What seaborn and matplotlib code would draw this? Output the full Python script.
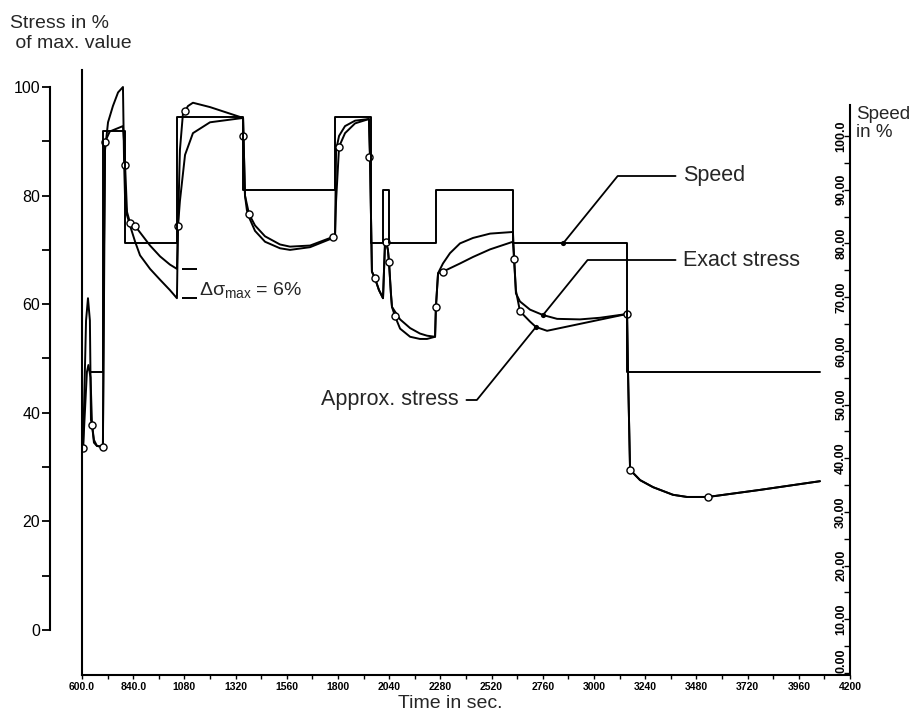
import numpy as np
import pandas as pd
import matplotlib
matplotlib.use("Agg")
import matplotlib.pyplot as plt
import seaborn as sns

sns.set_theme(style="white")
plt.rcParams['font.family'] = ['Liberation Sans', 'DejaVu Sans']
plt.rcParams['mathtext.fontset'] = 'custom'
plt.rcParams['mathtext.rm'] = 'Liberation Sans'
plt.rcParams['mathtext.it'] = 'Liberation Sans'

# ---------------- data ----------------
x_ticks = [600, 840, 1080, 1320, 1560, 1800, 2040, 2280, 2520, 2760, 3000,
           3240, 3480, 3720, 3960, 4200]
x_labels = ["600.0", "840.0", "1080", "1320", "1560", "1800", "2040", "2280",
            "2520", "2760", "3000", "3240", "3480", "3720", "3960", "4200"]
stress_ticks = [0, 20, 40, 60, 80, 100]
speed_ticks = [0, 10, 20, 30, 40, 50, 60, 70, 80, 90, 100]
speed_labels = ["0.00", "10.00", "20.00", "30.00", "40.00", "50.00", "60.00",
                "70.00", "80.00", "90.00", "100.0"]

speed_t = [637, 698, 802, 1045, 1355, 1786, 1955, 2011, 2040, 2259, 2620, 3155, 4060]
speed_v = [56.0, 101.0, 80.0, 103.5, 90.0, 103.5, 80.0, 90.0, 80.0, 90.0, 80.0, 56.0, 56.0]

exact_t = [605, 619, 628, 637, 642, 647, 656, 670, 698, 703, 708, 722, 745, 769,
           792, 797, 802, 811, 825, 849, 872, 919, 966, 1012, 1045, 1050, 1059,
           1073, 1097, 1120, 1200, 1355, 1364, 1373, 1383, 1411, 1458, 1528,
           1575, 1669, 1777, 1786, 1791, 1805, 1833, 1880, 1945, 1950, 1959,
           1973, 1992, 2011, 2020, 2025, 2034, 2039, 2048, 2053, 2067, 2091,
           2138, 2184, 2217, 2255, 2259, 2269, 2292, 2325, 2372, 2433, 2513,
           2620, 2634, 2653, 2700, 2761, 2827, 2934, 3028, 3155, 3159, 3169,
           3216, 3277, 3370, 3436, 3534, 3778, 4059]
exact_s = [33.5, 57.0, 61.1, 57.0, 38.7, 37.8, 35.0, 33.9, 33.7, 70.0, 88.4,
           93.5, 96.5, 99.0, 100.0, 86.6, 79.2, 76.4, 74.5, 71.5, 69.0, 66.5,
           64.5, 62.6, 61.1, 74.4, 88.4, 95.0, 96.5, 97.1, 96.3, 94.3, 80.0,
           77.3, 76.0, 73.5, 71.5, 70.3, 70.0, 70.5, 72.2, 72.4, 88.4, 91.0,
           92.8, 93.8, 94.1, 87.1, 66.0, 64.8, 62.6, 61.1, 70.9, 71.5, 70.0,
           67.8, 62.0, 59.5, 57.8, 55.5, 54.0, 53.6, 53.6, 54.0, 59.5, 65.7,
           67.5, 69.4, 71.2, 72.2, 73.0, 73.3, 62.0, 60.5, 59.0, 58.0, 57.3,
           57.2, 57.5, 58.2, 48.4, 29.5, 27.6, 26.3, 24.9, 24.5, 24.5, 25.8, 27.4]

approx_t = [605, 623, 630, 640, 647, 656, 670, 698, 703, 708, 730, 792, 797,
            802, 811, 825, 849, 919, 966, 1012, 1045, 1050, 1059, 1083, 1120,
            1200, 1355, 1364, 1383, 1411, 1458, 1528, 1575, 1669, 1777, 1786,
            1791, 1805, 1833, 1880, 1945, 1950, 1959, 1973, 1992, 2011, 2020,
            2025, 2034, 2039, 2048, 2053, 2091, 2138, 2184, 2217, 2255, 2259,
            2269, 2292, 2372, 2433, 2513, 2620, 2634, 2653, 2700, 2728, 2780,
            3155, 3159, 3169, 3216, 3277, 3370, 3436, 3534, 3778, 4059]
approx_s = [33.5, 47.5, 48.8, 46.5, 37.8, 34.5, 33.9, 33.7, 60.0, 89.9, 91.8,
            92.8, 90.0, 85.6, 77.0, 75.0, 74.4, 70.8, 68.8, 67.3, 66.5, 74.4,
            79.0, 87.5, 91.5, 93.5, 94.3, 80.0, 76.6, 74.5, 72.5, 71.0, 70.6,
            70.8, 72.4, 72.4, 79.0, 89.0, 91.5, 93.3, 94.1, 87.1, 66.0, 64.8,
            62.6, 61.1, 70.9, 71.5, 70.0, 67.8, 62.0, 59.5, 57.2, 55.6, 54.6,
            54.2, 54.0, 59.5, 65.7, 66.0, 67.5, 68.7, 70.1, 71.5, 62.5, 58.7,
            56.8, 55.8, 55.1, 58.2, 48.4, 29.5, 27.6, 26.3, 24.9, 24.5, 24.5,
            25.8, 27.4]

mark_t = [605, 647, 698, 708, 802, 825, 849, 1050, 1083, 1357, 1383, 1777,
          1805, 1946, 1973, 2025, 2039, 2067, 2259, 2292, 2626, 2653, 3155,
          3169, 3534]
mark_s = [33.5, 37.8, 33.7, 89.9, 85.6, 75.0, 74.4, 74.4, 95.5, 91.0, 76.6,
          72.4, 89.0, 87.1, 64.8, 71.5, 67.8, 57.8, 59.5, 66.0, 68.3, 58.7,
          58.2, 29.5, 24.5]

speed_label_point = (2855, 80.0)
exact_label_point = (2761, 58.0)
approx_label_point = (2728, 55.8)
delta_time = 1045

# ---------------- figure ----------------
W, H = 918, 717
fig = plt.figure(figsize=(W / 100, H / 100), dpi=100)
ax = fig.add_axes([82 / W, 1 - 675 / H, 768 / W, 605 / H])
ax.set_xlim(600, 4200)
ax.set_ylim(-8.29, 103.13)
tw = ax.twinx()
tw.set_ylim(-0.37, 112.3)
for a in (ax, tw):
    a.grid(False)
    a.set_facecolor('none')

lw = 1.4
sns.lineplot(x=exact_t, y=exact_s, ax=ax, color='black', lw=lw,
             estimator=None, sort=False)
sns.lineplot(x=approx_t, y=approx_s, ax=ax, color='black', lw=lw,
             estimator=None, sort=False)
sns.scatterplot(x=mark_t, y=mark_s, ax=ax, marker='o', s=26,
                facecolor='white', edgecolor='black', linewidth=1.0, zorder=5)
sns.lineplot(x=speed_t, y=speed_v, ax=tw, color='black', lw=lw,
             estimator=None, sort=False, drawstyle='steps-post')

# leader end dots
sns.scatterplot(x=[speed_label_point[0]], y=[speed_label_point[1]], ax=tw,
                color='black', s=14, zorder=6, linewidth=0)
sns.scatterplot(x=[exact_label_point[0], approx_label_point[0]],
                y=[exact_label_point[1], approx_label_point[1]], ax=ax,
                color='black', s=14, zorder=6, linewidth=0)

# ---------------- axes styling ----------------
ax.spines['top'].set_visible(False)
ax.spines['right'].set_visible(False)
ax.spines['left'].set_position(('outward', 23))
ax.spines['left'].set_bounds(0, 100)
for s in ('left', 'bottom'):
    ax.spines[s].set_linewidth(1.5)
    ax.spines[s].set_color('black')

ax.set_yticks(stress_ticks)
ax.set_yticks([10, 30, 50, 70, 90], minor=True)
ax.set_yticklabels([str(v) for v in stress_ticks], fontsize=11.5)
ax.tick_params(axis='y', which='both', direction='out', length=6, width=1.3,
               colors='black', pad=1, left=True)

ax.set_xticks(x_ticks)
ax.set_xticks(list(range(720, 4200, 240)), minor=True)
ax.set_xticklabels(x_labels, fontsize=7.5, fontweight='bold')
ax.tick_params(axis='x', which='both', direction='out', length=3, width=1.0,
               colors='black', pad=2, bottom=True)

tw.spines['top'].set_visible(False)
tw.spines['bottom'].set_visible(False)
tw.spines['left'].set_visible(True)
tw.spines['left'].set_linewidth(1.5)
tw.spines['left'].set_color('black')
tw.spines['right'].set_linewidth(1.5)
tw.spines['right'].set_color('black')
tw.spines['right'].set_bounds(0, 105.8)
tw.set_yticks(speed_ticks)
tw.set_yticks(list(range(5, 100, 10)), minor=True)
tw.set_yticklabels(speed_labels, rotation=90, ha='right', va='center',
                   fontsize=9, fontweight='bold')
tw.get_yticklabels()[0].set_va('bottom')
tw.tick_params(axis='y', which='both', direction='in', length=4, width=1.0,
               colors='black', pad=-2, right=True, left=False)

# ---------------- texts ----------------
fig.text(10 / W, 1 - 15 / H, "Stress in %\n of max. value", ha='left', va='top',
         fontsize=14, linespacing=1.25)
fig.text(856 / W, 1 - 106 / H, "Speed\nin %", ha='left', va='top',
         fontsize=13.5, linespacing=1.05)
fig.text(450 / W, 1 - 703 / H, "Time in sec.", ha='center', va='center',
         fontsize=14)

arrow = dict(arrowstyle='-', lw=1.3, color='black', shrinkA=3, shrinkB=0)
ax.annotate("Speed", xy=speed_label_point, xycoords=tw.transData,
            xytext=(683 / W, 1 - 176 / H), textcoords='figure fraction',
            ha='left', va='center', fontsize=15.5,
            arrowprops=dict(arrow, relpos=(0, 0.5),
                            connectionstyle='angle,angleA=0,angleB=51,rad=0'))
ax.annotate("Exact stress", xy=exact_label_point, xycoords='data',
            xytext=(683 / W, 1 - 260 / H), textcoords='figure fraction',
            ha='left', va='center', fontsize=15.5,
            arrowprops=dict(arrow, relpos=(0, 0.5),
                            connectionstyle='angle,angleA=0,angleB=51,rad=0'))
ax.annotate("Approx. stress", xy=approx_label_point, xycoords='data',
            xytext=(459 / W, 1 - 400 / H), textcoords='figure fraction',
            ha='right', va='center', fontsize=15.5,
            arrowprops=dict(arrow, relpos=(1, 0.5),
                            connectionstyle='angle,angleA=0,angleB=51,rad=0'))

# delta sigma annotation
i_a = approx_t.index(delta_time)
i_e = exact_t.index(delta_time)
ax.hlines([approx_s[i_a], exact_s[i_e]], 1068, 1140, color='black', lw=1.4)
ax.text(1150, exact_s[i_e] + 1.5, r"$\Delta\sigma_{\rm max}$ = 6%",
        ha='left', va='center', fontsize=14)

fig.savefig("out.png", dpi=100)
